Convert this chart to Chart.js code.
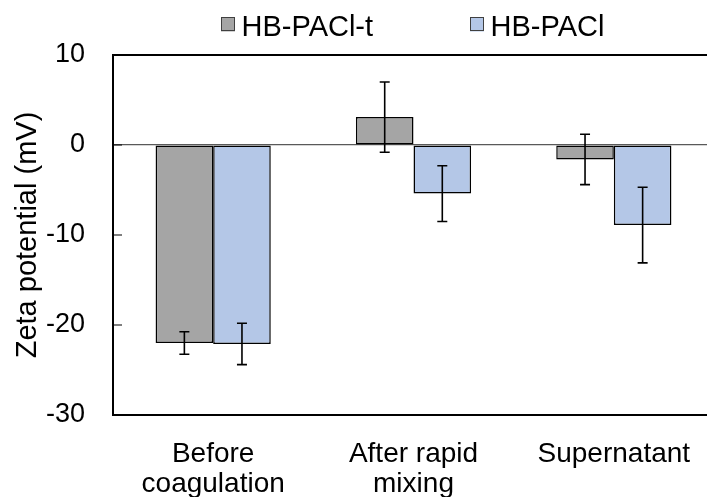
<!DOCTYPE html>
<html>
<head>
<meta charset="utf-8">
<script src="https://cdn.jsdelivr.net/npm/chart.js@4.4.1/dist/chart.umd.min.js"></script>
<style>
  html, body { margin: 0; padding: 0; background: #fff; overflow: hidden; }
</style>
</head>
<body>
<canvas id="zeta-chart" width="714" height="497"></canvas>
<script>
// categories and series
const stages = [['Before', 'coagulation'], ['After rapid', 'mixing'], 'Supernatant'];
const seriesNames = ['HB-PACl-t', 'HB-PACl'];
const paclT = [-22.0, 3.1, -1.6];
const paclTErr = [1.25, 3.9, 2.8];
const pacl = [-22.1, -5.4, -8.9];
const paclErr = [2.3, 3.1, 4.2];
const yTicks = [10, 0, -10, -20, -30];

const FONT = 'Liberation Sans, Arial, sans-serif';

// error bars on each bar
const errorBars = {
    id: 'errorBars',
    afterDatasetsDraw(chart) {
        const ctx = chart.ctx;
        const y = chart.scales.y;
        ctx.save();
        ctx.strokeStyle = '#000';
        ctx.lineWidth = 1.6;
        chart.data.datasets.forEach((ds, i) => {
            chart.getDatasetMeta(i).data.forEach((bar, j) => {
                const hi = y.getPixelForValue(ds.data[j] + ds.errors[j]);
                const lo = y.getPixelForValue(ds.data[j] - ds.errors[j]);
                ctx.beginPath();
                ctx.moveTo(bar.x, hi); ctx.lineTo(bar.x, lo);
                ctx.moveTo(bar.x - 5, hi); ctx.lineTo(bar.x + 5, hi);
                ctx.moveTo(bar.x - 5, lo); ctx.lineTo(bar.x + 5, lo);
                ctx.stroke();
            });
        });
        ctx.restore();
    }
};

// plot frame (top, left, bottom) with inside tick marks
const frame = {
    id: 'frame',
    afterDatasetsDraw(chart) {
        const {ctx, chartArea: a} = chart;
        const y = chart.scales.y;
        ctx.save();
        ctx.strokeStyle = '#000';
        ctx.lineWidth = 2;
        ctx.beginPath();
        ctx.moveTo(a.right + 2, a.top); ctx.lineTo(a.left, a.top);
        ctx.lineTo(a.left, a.bottom); ctx.lineTo(a.right + 2, a.bottom);
        ctx.stroke();
        ctx.lineWidth = 1.2;
        ctx.beginPath();
        y.ticks.forEach(t => {
            const py = y.getPixelForValue(t.value);
            ctx.moveTo(a.left, py); ctx.lineTo(a.left + 9, py);
        });
        ctx.stroke();
        ctx.restore();
    }
};

// legend placed like the Excel one
const topLegend = {
    id: 'topLegend',
    afterDraw(chart) {
        const ctx = chart.ctx;
        const spots = [221, 470];
        ctx.save();
        ctx.font = '29px ' + FONT;
        ctx.textBaseline = 'alphabetic';
        ctx.textAlign = 'left';
        chart.data.datasets.forEach((ds, i) => {
            const x = spots[i];
            ctx.fillStyle = ds.backgroundColor;
            ctx.fillRect(x, 17.5, 14, 14);
            ctx.strokeStyle = '#404040';
            ctx.lineWidth = 1;
            ctx.strokeRect(x + 0.5, 17.5, 13, 13);
            ctx.fillStyle = '#000';
            ctx.fillText(ds.label, x + 20.5, 36);
        });
        ctx.restore();
    }
};

new Chart(document.getElementById('zeta-chart'), {
    type: 'bar',
    data: {
        labels: stages,
        datasets: [{
            label: seriesNames[0],
            data: paclT,
            errors: paclTErr,
            backgroundColor: '#a5a5a5',
            borderColor: '#000',
            borderWidth: 1.5,
            borderSkipped: false
        }, {
            label: seriesNames[1],
            data: pacl,
            errors: paclErr,
            backgroundColor: '#b4c7e7',
            borderColor: '#000',
            borderWidth: 1.5,
            borderSkipped: false
        }]
    },
    options: {
        responsive: false,
        animation: false,
        layout: {padding: {top: 55, left: 0, right: 0, bottom: 0}},
        datasets: {bar: {categoryPercentage: 0.575, barPercentage: 1}},
        plugins: {
            legend: {display: false},
            tooltip: {enabled: false}
        },
        scales: {
            x: {
                grid: {display: false},
                border: {display: false},
                ticks: {
                    color: '#000',
                    padding: 17,
                    maxRotation: 0,
                    font: {family: FONT, size: 28, lineHeight: 1.05}
                },
                afterFit: s => { s.height = 82; }
            },
            y: {
                min: -30,
                max: 10,
                afterBuildTicks: s => { s.ticks = yTicks.map(v => ({value: v})); },
                grid: {
                    drawTicks: false,
                    color: c => c.tick && c.tick.value === 0 ? '#595959' : 'rgba(0,0,0,0)',
                    lineWidth: 1.2
                },
                border: {display: false},
                ticks: {
                    color: '#000',
                    padding: 28,
                    font: {family: FONT, size: 27}
                },
                title: {
                    display: true,
                    text: 'Zeta potential (mV)',
                    color: '#000',
                    padding: {top: 11},
                    font: {family: FONT, size: 29}
                },
                afterFit: s => { s.width = 113; }
            }
        }
    },
    plugins: [errorBars, frame, topLegend]
});
</script>
</body>
</html>
